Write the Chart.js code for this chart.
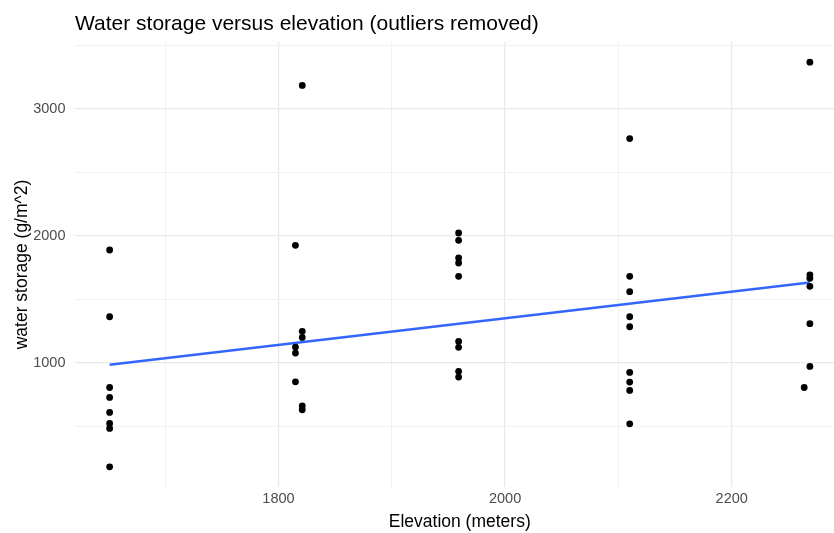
<!DOCTYPE html>
<html>
<head>
<meta charset="utf-8">
<title>Water storage versus elevation</title>
<script src="https://cdn.jsdelivr.net/npm/chart.js@4.4.1/dist/chart.umd.min.js"></script>
<style>
  html, body { margin: 0; padding: 0; background: #fff; overflow: hidden; }
  #wrap { position: relative; width: 849px; height: 533px; }
  #title {
    position: absolute; left: 75px; top: 10px;
    font: 21px "Liberation Sans", Arial, sans-serif; line-height: 25px;
    color: #000; white-space: nowrap;
  }
</style>
</head>
<body>
<div id="wrap">
  <div id="title">Water storage versus elevation (outliers removed)</div>
  <canvas id="chart" width="849" height="533"></canvas>
</div>
<script>
// site elevation (m) and measured water storage (g/m^2), one entry per sample
const elevation = [
  1651, 1651, 1651, 1651, 1651, 1651, 1651, 1651,
  1821, 1815, 1821, 1821, 1815, 1815, 1815, 1821, 1821,
  1959, 1959, 1959, 1959, 1959, 1959, 1959, 1959, 1959,
  2110, 2110, 2110, 2110, 2110, 2110, 2110, 2110, 2110,
  2269, 2269, 2269, 2269, 2269, 2269, 2264
];
const storage = [
  1889, 1364, 807, 729, 611, 524, 485, 183,
  3184, 1926, 1249, 1201, 1125, 1078, 852, 663, 632,
  2023, 1965, 1827, 1787, 1682, 1170, 1123, 934, 889,
  2766, 1682, 1561, 1364, 1285, 926, 850, 784, 521,
  3367, 1693, 1666, 1603, 1309, 973, 807
];

// linear fit, two ends
const fitElevation = [1651, 2269];
const fitStorage = [986, 1634];

// grid positions and the ones that get a label
const xGrid = [1700, 1800, 1900, 2000, 2100, 2200];
const yGrid = [500, 1000, 1500, 2000, 2500, 3000, 3500];
const xTickLabels = [1800, 2000, 2200];
const yTickLabels = [1000, 2000, 3000];

const FONT = '"Liberation Sans", Arial, sans-serif';

const points = elevation.map((e, i) => ({ x: e, y: storage[i] }));
const fitLine = fitElevation.map((e, i) => ({ x: e, y: fitStorage[i] }));

function gridColor(labels) {
  return ctx => labels.includes(ctx.tick.value) ? '#e9e9e9' : '#f2f2f2';
}
function gridWidth(labels) {
  return ctx => labels.includes(ctx.tick.value) ? 1.3 : 1;
}

new Chart(document.getElementById('chart'), {
  type: 'scatter',
  data: {
    datasets: [
      {
        data: fitLine,
        type: 'line',
        borderColor: '#3366ff',
        borderWidth: 2.6,
        pointRadius: 0,
        fill: false,
        order: 1
      },
      {
        data: points,
        backgroundColor: '#000',
        borderWidth: 0,
        pointRadius: 3.4,
        order: 0
      }
    ]
  },
  options: {
    responsive: false,
    animation: false,
    layout: { padding: { top: 42, left: 0, right: 0, bottom: 0 } },
    plugins: { legend: { display: false }, tooltip: { enabled: false } },
    scales: {
      x: {
        type: 'linear',
        min: 1620,
        max: 2300,
        border: { display: false },
        grid: { color: gridColor(xTickLabels), lineWidth: gridWidth(xTickLabels), drawTicks: false },
        afterBuildTicks: s => { s.ticks = xGrid.map(v => ({ value: v })); },
        afterFit: s => { s.height = 46; },
        ticks: {
          autoSkip: false,
          maxRotation: 0,
          padding: 3,
          color: '#4d4d4d',
          font: { family: FONT, size: 14.5 },
          callback: v => xTickLabels.includes(v) ? String(v) : ''
        },
        title: {
          display: true,
          text: 'Elevation (meters)',
          color: '#000',
          font: { family: FONT, size: 17.5 },
          padding: { top: 0, bottom: 0 }
        }
      },
      y: {
        type: 'linear',
        min: 24,
        max: 3526,
        border: { display: false },
        grid: { color: gridColor(yTickLabels), lineWidth: gridWidth(yTickLabels), drawTicks: false },
        afterBuildTicks: s => { s.ticks = yGrid.map(v => ({ value: v })); },
        afterFit: s => { s.width = 74.5; },
        ticks: {
          autoSkip: false,
          padding: 9,
          color: '#4d4d4d',
          font: { family: FONT, size: 14.5 },
          callback: v => yTickLabels.includes(v) ? String(v) : ''
        },
        title: {
          display: true,
          text: 'water storage (g/m^2)',
          color: '#000',
          font: { family: FONT, size: 17.5 },
          padding: { top: 11.5, bottom: 0 }
        }
      }
    }
  }
});
</script>
</body>
</html>
